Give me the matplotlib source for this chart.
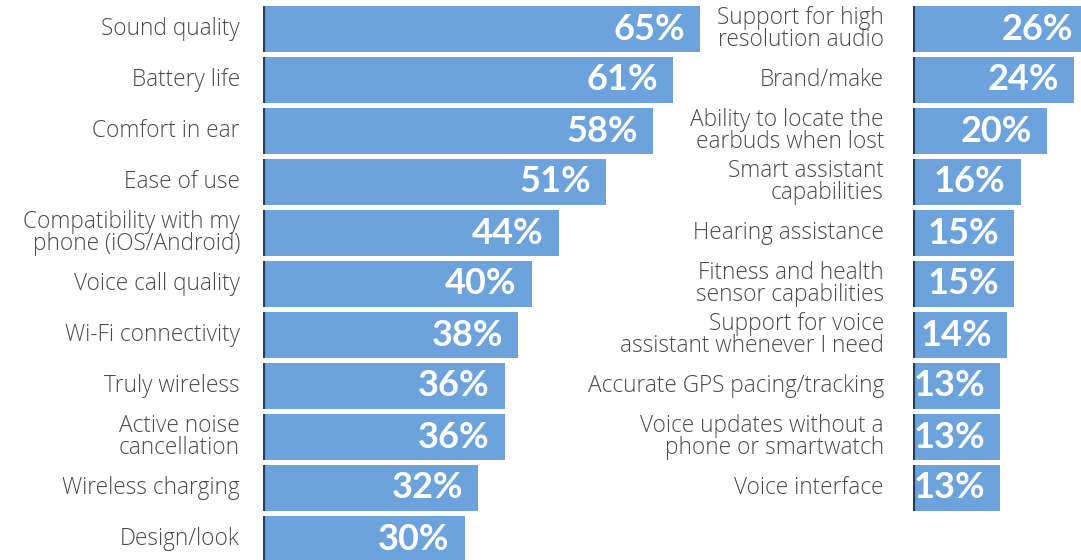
"""Headphone feature importance: two columns of horizontal bars."""
import matplotlib
matplotlib.use("Agg")
import matplotlib.pyplot as plt

left_labels = [
    "Sound quality", "Battery life", "Comfort in ear", "Ease of use",
    "Compatibility with my\nphone (iOS/Android)", "Voice call quality",
    "Wi-Fi connectivity", "Truly wireless", "Active noise\ncancellation",
    "Wireless charging", "Design/look",
]
left_values = [65, 61, 58, 51, 44, 40, 38, 36, 36, 32, 30]

right_labels = [
    "Support for high\nresolution audio", "Brand/make",
    "Ability to locate the\nearbuds when lost", "Smart assistant\ncapabilities",
    "Hearing assistance", "Fitness and health\nsensor capabilities",
    "Support for voice\nassistant whenever I need",
    "Accurate GPS pacing/tracking",
    "Voice updates without a\nphone or smartwatch", "Voice interface",
]
right_values = [26, 24, 20, 16, 15, 15, 14, 13, 13, 13]

BAR = "#6ca3dc"
EDGE = "#22405f"
TEXT = "#4a4a4a"
W, H = 1081, 560
PX_PER_PCT = 6.72
ROW_PX = 51

fig = plt.figure(figsize=(W / 100, H / 100), dpi=100)


def panel(x0, x1, labels, values, gap):
    ax = fig.add_axes([x0 / W, 0, (x1 - x0) / W, 1])
    ax.set_xlim(0, (x1 - x0) / PX_PER_PCT)
    ax.set_ylim((H - 29) / ROW_PX, -29 / ROW_PX)
    ax.axis("off")
    ys = list(range(len(values)))
    h = 46 / ROW_PX
    ax.barh(ys, values, height=h, color=BAR, linewidth=0)
    ax.vlines([0.15] * len(ys), [y - h / 2 for y in ys], [y + h / 2 for y in ys],
              color=EDGE, linewidth=1.6)
    for y, lab, v in zip(ys, labels, values):
        ax.annotate(lab, (0, y), xytext=(-gap, 0), textcoords="offset pixels",
                    ha="right", va="center", fontsize=16.3, color=TEXT,
                    family="Open Sans", weight="light", linespacing=0.92,
                    multialignment="right", annotation_clip=False)
        ax.annotate(f"{v}%", (v, y), xytext=(-15, 0), textcoords="offset pixels",
                    ha="right", va="center", fontsize=26, color="white",
                    family="Lato", weight="bold", annotation_clip=False)
    return ax


panel(263, 720, left_labels, left_values, 23)
panel(913, W, right_labels, right_values, 29)

fig.savefig("out.png", dpi=100)
